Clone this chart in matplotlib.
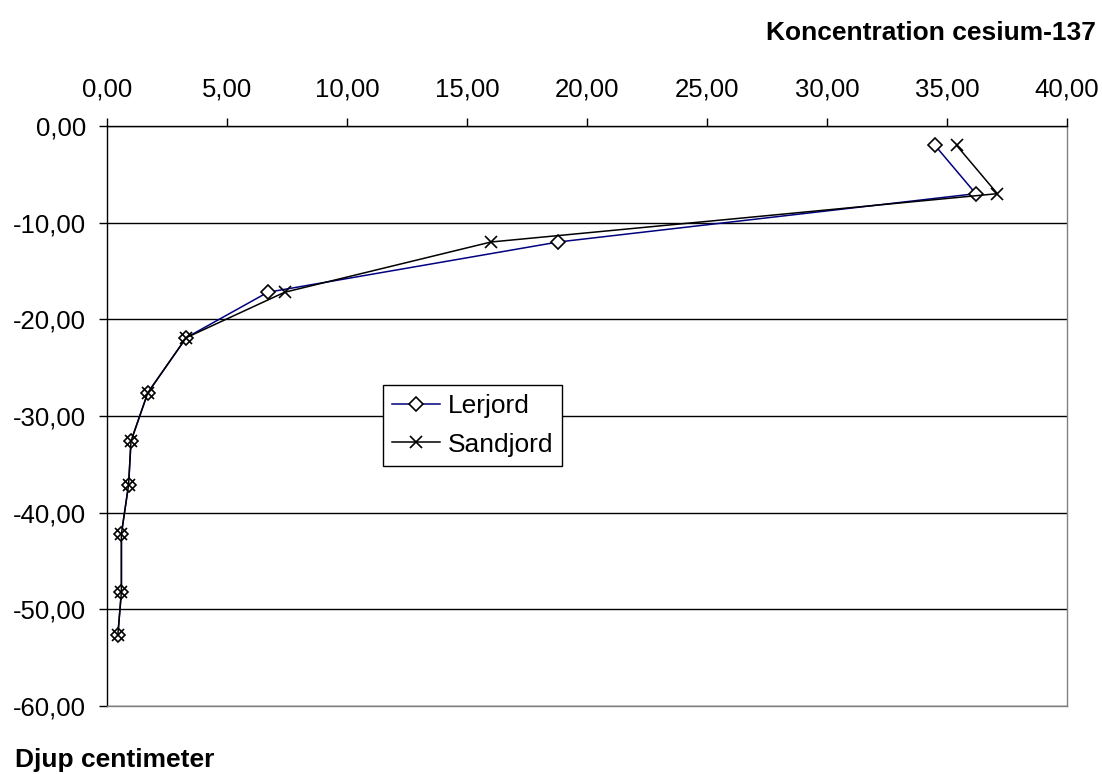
import matplotlib.pyplot as plt
from matplotlib.ticker import FuncFormatter, MultipleLocator

plt.rcParams['font.family'] = ['Liberation Sans', 'DejaVu Sans']

# depth (cm) and cesium-137 concentration
depth = [-2.0, -7.0, -12.0, -17.2, -21.9, -27.6, -32.6, -37.1, -42.2, -48.2, -52.7]
lerjord = [34.5, 36.2, 18.8, 6.7, 3.3, 1.7, 1.0, 0.9, 0.6, 0.6, 0.45]
sandjord = [35.4, 37.1, 16.0, 7.4, 3.3, 1.7, 1.0, 0.9, 0.6, 0.6, 0.45]

fig = plt.figure(figsize=(11.02, 7.74), dpi=100)
ax = fig.add_axes([0.0971, 0.0879, 0.8711, 0.7493])

ax.plot(lerjord, depth, color='#000080', lw=1.1, marker='D', ms=7.5,
        mfc='white', mec='black', mew=1.2, label='Lerjord', zorder=3)
ax.plot(sandjord, depth, color='black', lw=1.1, marker='x', ms=8.5,
        mec='black', mew=1.2, label='Sandjord', zorder=3)

ax.set_xlim(0, 40)
ax.set_ylim(-60, 0)
ax.xaxis.set_major_locator(MultipleLocator(5))
ax.yaxis.set_major_locator(MultipleLocator(10))
fmt = FuncFormatter(lambda v, p: f"{v:.2f}".replace('.', ','))
ax.xaxis.set_major_formatter(fmt)
ax.yaxis.set_major_formatter(fmt)

ax.xaxis.tick_top()
ax.tick_params(axis='x', direction='out', length=6, width=1, labelsize=18.5, pad=12)
ax.tick_params(axis='y', direction='out', length=6, width=1, labelsize=18.5, pad=9)

ax.grid(axis='y', color='black', lw=1)
ax.spines['top'].set_color('black')
ax.spines['left'].set_color('black')
ax.spines['right'].set_color('#808080')
ax.spines['bottom'].set_color('#808080')
for s in ax.spines.values():
    s.set_linewidth(1)
ax.set_axisbelow(True)

leg = ax.legend(loc='upper left', bbox_to_anchor=(0.2875, 0.5535), fontsize=19,
                frameon=True, fancybox=False, edgecolor='black', framealpha=1,
                handlelength=1.8, handletextpad=0.3, borderpad=0.35,
                labelspacing=0.55, borderaxespad=0)
leg.get_frame().set_linewidth(1)

fig.text(0.994, 0.958, 'Koncentration cesium-137', ha='right', va='center',
         fontsize=19, fontweight='bold')
fig.text(0.0136, 0.009, 'Djup centimeter', ha='left', va='baseline',
         fontsize=19, fontweight='bold')

fig.savefig('out.png', dpi=100)
